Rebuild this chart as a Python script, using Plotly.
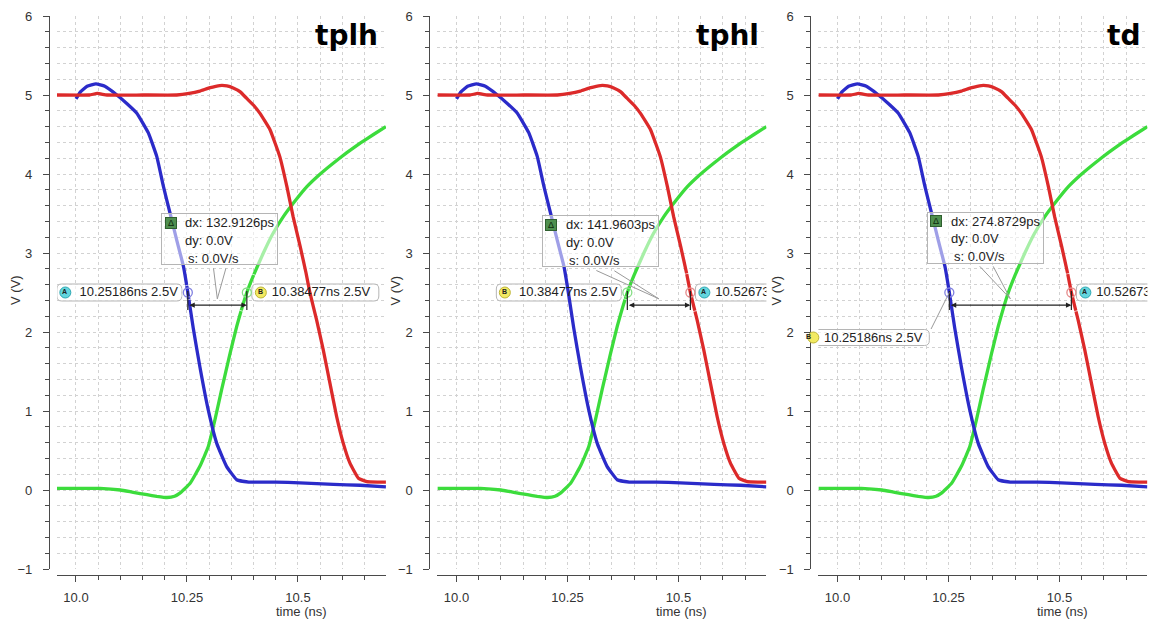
import plotly.graph_objects as go

W, H = 1151, 623

# ---- waveforms: time (ns) / voltage (V) ----
t_vin = [10.000, 10.010, 10.025, 10.045, 10.065, 10.090, 10.115, 10.137, 10.163, 10.182,
         10.197, 10.212, 10.227, 10.242, 10.25186, 10.264, 10.279, 10.298, 10.317, 10.339,
         10.362, 10.389, 10.450, 10.504, 10.580, 10.640, 10.698]
v_vin = [4.95, 5.04, 5.11, 5.14, 5.11, 5.01, 4.89, 4.77, 4.52, 4.22,
         3.84, 3.50, 3.16, 2.83, 2.50, 2.05, 1.56, 1.01, 0.59, 0.30,
         0.13, 0.10, 0.10, 0.09, 0.07, 0.06, 0.04]

t_vmid = [9.957, 10.000, 10.054, 10.100, 10.129, 10.160, 10.182, 10.205, 10.222, 10.234,
          10.257, 10.279, 10.298, 10.313, 10.328, 10.347, 10.362, 10.38477, 10.400, 10.422,
          10.443, 10.467, 10.495, 10.520, 10.550, 10.580, 10.610, 10.640, 10.670, 10.698]
v_vmid = [0.02, 0.02, 0.02, 0.00, -0.03, -0.06, -0.08, -0.095, -0.08, -0.04,
          0.085, 0.30, 0.55, 0.89, 1.27, 1.73, 2.07, 2.50, 2.72, 3.00,
          3.24, 3.46, 3.67, 3.84, 4.00, 4.14, 4.27, 4.39, 4.50, 4.60]

t_vout = [9.957, 10.030, 10.048, 10.070, 10.150, 10.227, 10.255, 10.279, 10.300, 10.324,
          10.340, 10.354, 10.370, 10.384, 10.400, 10.414, 10.437, 10.459, 10.475, 10.489,
          10.505, 10.518, 10.52673, 10.542, 10.557, 10.572, 10.587, 10.602, 10.617, 10.636,
          10.655, 10.680, 10.698]
v_vout = [5.00, 5.00, 5.02, 5.00, 5.00, 5.00, 5.02, 5.05, 5.09, 5.12,
          5.115, 5.09, 5.04, 4.96, 4.87, 4.77, 4.56, 4.22, 3.84, 3.46,
          3.08, 2.75, 2.50, 2.15, 1.77, 1.35, 0.93, 0.59, 0.34, 0.15,
          0.105, 0.10, 0.10]

# ---- cursor measurements, one panel each ----
panel_titles = ["tplh", "tphl", "td"]
cursor_left_t = [10.25186, 10.38477, 10.25186]
cursor_right_t = [10.38477, 10.52673, 10.52673]
cursor_left_name = ["A", "B", "B"]
cursor_right_name = ["B", "A", "A"]
cursor_left_wave = ["vin", "vmid", "vin"]
cursor_right_wave = ["vmid", "vout", "vout"]
cursor_v = 2.5
delta_dx = ["132.9126ps", "141.9603ps", "274.8729ps"]
delta_dy = "0.0V"
delta_s = "0.0V/s"

x_tickvals = [10.0, 10.25, 10.5]
x_ticktext = ["10.0", "10.25", "10.5"]
y_tickvals = [-1, 0, 1, 2, 3, 4, 5, 6]

# ---- styling ----
FONT = "Liberation Sans, Arial, sans-serif"
WAVE_COLOR = {"vin": "#2b2bc9", "vmid": "#3cdc3c", "vout": "#dc2a2a"}
RING_COLOR = {"vin": "#7f7fe0", "vmid": "#86df86", "vout": "#e58a8a"}
ICON_COLOR = {"A": ("#63d6de", "#2fa8b2"), "B": ("#f2ea62", "#bdb436")}
WAVES = {"vin": (t_vin, v_vin), "vmid": (t_vmid, v_vmid), "vout": (t_vout, v_vout)}
GRID = "#d2d2d2"
AXIS = "#4a4a4a"

# pixel geometry of the three panels
ORIGINS = [76, 456.5, 837.5]      # x pixel of t = 10.0 ns
SCALE = 444                        # pixels per ns
X_RANGE = [9.957, 10.698]
Y_TOP, Y_BOT, X_AXIS_Y = 16, 569, 575
PX_PER_V = (Y_BOT - Y_TOP) / 7


def px(x):
    return x / W


def py(y):
    return 1 - y / H


def rounded_box(x0, x1, y0, y1, r=5):
    return (f"M{x0 + r},{y0} L{x1 - r},{y0} Q{x1},{y0} {x1},{y0 + r} "
            f"L{x1},{y1 - r} Q{x1},{y1} {x1 - r},{y1} L{x0 + r},{y1} "
            f"Q{x0},{y1} {x0},{y1 - r} L{x0},{y0 + r} Q{x0},{y0} {x0 + r},{y0} Z")


fig = go.Figure()
shapes = []
annotations = []
layout_axes = {}

for i, origin in enumerate(ORIGINS):
    n = "" if i == 0 else str(i + 1)
    xa, ya = "x" + n, "y" + n
    left = origin + (X_RANGE[0] - 10) * SCALE
    right = origin + (X_RANGE[1] - 10) * SCALE
    yline = left - 8

    layout_axes["xaxis" + n] = dict(
        domain=[px(left), px(right)], range=X_RANGE, anchor="free", position=py(X_AXIS_Y),
        tickmode="array", tickvals=x_tickvals, ticktext=x_ticktext,
        ticks="outside", ticklen=6, tickwidth=1, tickcolor=AXIS,
        showline=True, linecolor=AXIS, linewidth=1, zeroline=False,
        showgrid=True, gridcolor=GRID, griddash="dot", gridwidth=1,
        minor=dict(tickmode="linear", tick0=10, dtick=0.05, ticks="outside", ticklen=4,
                   tickcolor=AXIS, showgrid=True, gridcolor=GRID, griddash="dot"),
        tickfont=dict(family=FONT, size=13, color="#333"), ticklabelstandoff=4,
        automargin=False, fixedrange=True,
    )
    layout_axes["yaxis" + n] = dict(
        domain=[py(Y_BOT), py(Y_TOP)], range=[-1, 6], anchor="free", position=px(yline),
        tickmode="array", tickvals=y_tickvals,
        ticks="outside", ticklen=6, tickwidth=1, tickcolor=AXIS,
        showline=True, linecolor=AXIS, linewidth=1, zeroline=False,
        showgrid=True, gridcolor=GRID, griddash="dot", gridwidth=1,
        minor=dict(tickmode="linear", tick0=0, dtick=0.2, ticks="outside", ticklen=4,
                   tickcolor=AXIS, showgrid=True, gridcolor=GRID, griddash="dot"),
        tickfont=dict(family=FONT, size=13, color="#333"), ticklabelstandoff=8,
        automargin=False, fixedrange=True,
    )

    # waveforms
    for name in ["vmid", "vin", "vout"]:
        tt, vv = WAVES[name]
        fig.add_trace(go.Scatter(
            x=tt, y=vv, xaxis=xa, yaxis=ya, mode="lines",
            line=dict(color=WAVE_COLOR[name], width=3.3, shape="spline", smoothing=0.35),
            hoverinfo="skip", showlegend=False,
        ))

    tl, tr = cursor_left_t[i], cursor_right_t[i]
    nl, nr = cursor_left_name[i], cursor_right_name[i]
    wl, wr = cursor_left_wave[i], cursor_right_wave[i]
    lbl_l = f"{tl:.5f}ns {cursor_v}V"
    lbl_r = f"{tr:.5f}ns {cursor_v}V"
    dropped = (i == 2)  # left cursor label sits below the cursor with a leader

    # cursor label boxes (pixel-sized, anchored on the cursor point)
    box_style = dict(type="path", xref=xa, yref=ya, xsizemode="pixel", ysizemode="pixel",
                     fillcolor="rgba(255,255,255,0.65)", line=dict(color="#b5b5b5", width=1),
                     layer="between")
    shapes.append(dict(box_style, xanchor=tr, yanchor=cursor_v, path=rounded_box(5, 132, -8.5, 8.5)))
    if dropped:
        shapes.append(dict(box_style, xanchor=tl, yanchor=cursor_v, path=rounded_box(-145, -20, -53, -37)))
    else:
        shapes.append(dict(box_style, xanchor=tl, yanchor=cursor_v, path=rounded_box(-131, -6, -8.5, 8.5)))

    # cursor label text (clipped to the plot area)
    if dropped:
        fig.add_trace(go.Scatter(
            x=[tr], y=[cursor_v], xaxis=xa, yaxis=ya, mode="markers+text",
            text=[lbl_r], textposition=["middle right"],
            marker=dict(size=[38.4], color="rgba(0,0,0,0)"),
            textfont=dict(family=FONT, size=13, color="#222"),
            cliponaxis=True, hoverinfo="skip", showlegend=False,
        ))
    else:
        fig.add_trace(go.Scatter(
            x=[tl, tr], y=[cursor_v, cursor_v], xaxis=xa, yaxis=ya, mode="markers+text",
            text=[lbl_l, lbl_r], textposition=["middle left", "middle right"],
            marker=dict(size=[14.4, 38.4], color="rgba(0,0,0,0)"),
            textfont=dict(family=FONT, size=13, color="#222"),
            cliponaxis=True, hoverinfo="skip", showlegend=False,
        ))

    # cursor points
    fig.add_trace(go.Scatter(
        x=[tl, tr], y=[cursor_v, cursor_v], xaxis=xa, yaxis=ya, mode="markers",
        marker=dict(symbol="circle-open", size=9,
                    line=dict(width=1.3), color=[RING_COLOR[wl], RING_COLOR[wr]]),
        hoverinfo="skip", showlegend=False,
    ))

    # cursor icons; the dropped label's icon sits on the axis edge, so it uses page coords
    icons = [(tr, nr, (14, 0), xa, ya)]
    if dropped:
        icons.append((tl, nl, (-136, -45), "paper", "paper"))
    else:
        icons.append((tl, nl, (-122.5, 0), xa, ya))
    for t, name, (cx, cy), rx, ry in icons:
        fill, edge = ICON_COLOR[name]
        if rx == "paper":
            anchor_x = px(origin + (t - 10) * SCALE)
            anchor_y = py(Y_TOP + (6 - cursor_v) * PX_PER_V)
        else:
            anchor_x, anchor_y = t, cursor_v
        shapes.append(dict(type="circle", xref=rx, yref=ry, xsizemode="pixel", ysizemode="pixel",
                           xanchor=anchor_x, yanchor=anchor_y, x0=cx - 5.5, x1=cx + 5.5,
                           y0=cy - 5.5, y1=cy + 5.5, fillcolor=fill,
                           line=dict(color=edge, width=1), layer="above"))
        annotations.append(dict(x=anchor_x, y=anchor_y, xref=rx, yref=ry, text=f"<b>{name}</b>",
                                showarrow=False, xshift=cx - 0.5, yshift=cy + 1,
                                font=dict(family=FONT, size=7, color="#222")))

    # delta marker: end ticks and the double arrow between the cursors
    for t in (tl, tr):
        shapes.append(dict(type="line", xref=xa, yref=ya, x0=t, x1=t, y0=2.28, y1=2.52,
                           line=dict(color="#222", width=1.2), layer="above"))
    annotations.append(dict(x=tr, y=2.34, ax=tl, ay=2.34, xref=xa, yref=ya, axref=xa, ayref=ya,
                            text="", showarrow=True, arrowhead=2, arrowside="end+start",
                            arrowsize=0.9, arrowwidth=1.2, arrowcolor="#222"))

    if dropped:
        annotations.append(dict(x=tl, y=cursor_v, xref=xa, yref=ya, text="", showarrow=True,
                                arrowhead=0, arrowwidth=1, arrowcolor="#9a9a9a", ax=-19, ay=38))
        annotations.append(dict(x=tl, y=cursor_v, xref=xa, yref=ya, text=lbl_l, showarrow=False,
                                xanchor="right", yanchor="middle", xshift=-24, yshift=-45,
                                font=dict(family=FONT, size=13, color="#222")))

DELTA_BOX = [(161, 213), (541.5, 215), (926.5, 212)]
WEDGE = [((-4, -32), (9, -32)), ((-64, -29), (-46, -29)), ((-32, -34), (-18, -34))]
for i, origin in enumerate(ORIGINS):
    n = "" if i == 0 else str(i + 1)
    xa, ya = "x" + n, "y" + n
    mid = (cursor_left_t[i] + cursor_right_t[i]) / 2
    for (ax, ay) in WEDGE[i]:
        annotations.append(dict(x=mid, y=2.42, xref=xa, yref=ya, text="", showarrow=True,
                                arrowhead=0, arrowwidth=1, arrowcolor="#9a9a9a", ax=ax, ay=ay))
    bx, by = DELTA_BOX[i]
    annotations.append(dict(x=px(bx), y=py(by), xref="paper", yref="paper", text=" ",
                            xanchor="left", yanchor="top", showarrow=False, width=115, height=50,
                            borderpad=0, borderwidth=1, bordercolor="#b5b5b5",
                            bgcolor="rgba(255,255,255,0.55)"))
    for k, (txt, dxs) in enumerate([(f"dx: {delta_dx[i]}", 22), (f"dy: {delta_dy}", 22),
                                    (f"s: {delta_s}", 25)]):
        annotations.append(dict(x=px(bx + dxs), y=py(by + 9 + 18 * k), xref="paper", yref="paper",
                                text=txt, xanchor="left", yanchor="middle", showarrow=False,
                                font=dict(family=FONT, size=13, color="#222")))
    annotations.append(dict(x=px(bx + 9.5), y=py(by + 9.5), xref="paper", yref="paper",
                            text="Δ", xanchor="center", yanchor="middle", showarrow=False,
                            width=10, height=10, borderpad=0, borderwidth=1,
                            bordercolor="#2f5f2f", bgcolor="#4f8f4f",
                            font=dict(family=FONT, size=9, color="#0d2a0d")))

    # panel title and axis titles
    annotations.append(dict(x=px(origin + 304), y=py(17), xref="paper", yref="paper",
                            text=f"<b>{panel_titles[i]}</b>", xanchor="right", yanchor="top",
                            showarrow=False, font=dict(family="DejaVu Sans", size=28, color="#000")))
    annotations.append(dict(x=px(origin + 225), y=py(611.5), xref="paper", yref="paper",
                            text="time (ns)", xanchor="center", yanchor="middle", showarrow=False,
                            font=dict(family=FONT, size=13, color="#333")))
    left = origin + (X_RANGE[0] - 10) * SCALE
    annotations.append(dict(x=px(left - 8 - 34), y=py(290), xref="paper", yref="paper",
                            text="V (V)", textangle=-90, xanchor="center", yanchor="middle",
                            showarrow=False, font=dict(family=FONT, size=13, color="#333")))

fig.update_layout(
    width=W, height=H, margin=dict(l=0, r=0, t=0, b=0, autoexpand=False),
    paper_bgcolor="white", plot_bgcolor="white", showlegend=False, hovermode=False,
    shapes=shapes, annotations=annotations, **layout_axes,
)

fig.write_html("out.html")
